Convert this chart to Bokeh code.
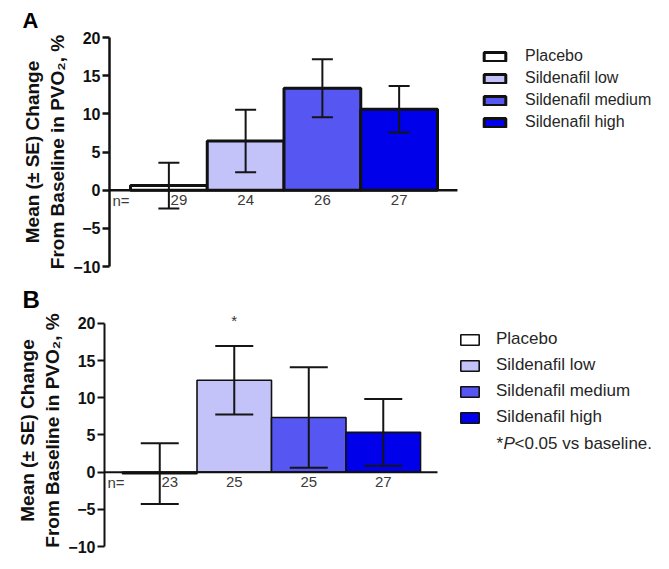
from bokeh.plotting import figure
from bokeh.models import (ColumnDataSource, Range1d, Whisker, TeeHead, Legend,
                          LegendItem, Label, FixedTicker, Title)
from bokeh.layouts import column, row
from bokeh.embed import file_html
from bokeh.resources import INLINE
from bokeh.core.properties import value

# ---------------- data ----------------
groups = ["Placebo", "Sildenafil low", "Sildenafil medium", "Sildenafil high"]
colors = ["#FFFFFF", "#C3C3FA", "#5656F2", "#0000EA"]
x_pos = [1, 2, 3, 4]
y_ticks = [-10, -5, 0, 5, 10, 15, 20]

a_mean = [0.6, 6.45, 13.35, 10.6]
a_se = [3.0, 4.1, 3.8, 3.05]
a_n = ["29", "24", "26", "27"]

b_mean = [-0.2, 12.35, 7.35, 5.35]
b_se = [4.1, 4.6, 6.75, 4.5]
b_n = ["23", "25", "25", "27"]

n_dx = [10, 0, 0, 0]
y_label = "Mean (\u00b1 SE) Change\nFrom Baseline in PVO\u2082, %"
FONT = "Liberation Sans"


def make_panel(letter, means, ses, ns, height, b_top, b_bottom, b_left,
               x_start, x_end, y_end, base_end, bar_lw, axis_lw, wl_w, cap,
               leg_loc, leg_font, gw, gh, lh, sp, lso,
               letter_off, letter_so, letter_size):
    p = figure(width=653, height=height, output_backend="svg",
               toolbar_location=None, x_axis_location=None,
               x_range=Range1d(x_start, x_end), y_range=Range1d(-10, y_end),
               min_border_top=b_top, min_border_bottom=b_bottom,
               min_border_left=b_left, min_border_right=0)
    p.grid.visible = False
    p.outline_line_color = None

    src = ColumnDataSource(dict(
        x=x_pos, top=means, color=colors, group=groups,
        upper=[m + s for m, s in zip(means, ses)],
        lower=[m - s for m, s in zip(means, ses)],
        n=ns, dx=n_dx, zero=[0] * 4))

    bars = p.vbar(x="x", top="top", bottom=0, width=1.0, source=src,
                  fill_color="color", line_color="#111111", line_width=bar_lw)

    p.segment(x0=[x_start], y0=[0], x1=[base_end], y1=[0],
              line_color="#111111", line_width=axis_lw)

    wh = Whisker(source=src, base="x", upper="upper", lower="lower",
                 line_color="#151515", line_width=wl_w, level="annotation",
                 upper_head=TeeHead(size=cap, line_width=wl_w, line_color="#151515"),
                 lower_head=TeeHead(size=cap, line_width=wl_w, line_color="#151515"))
    p.add_layout(wh)

    p.text(x="x", y="zero", text="n", source=src, x_offset="dx", y_offset=10,
           text_align="center", text_baseline="middle",
           text_font=value(FONT), text_font_size="15px", text_color="#3a3a3a")
    p.text(x=[x_start], y=[0], text=["n="], x_offset=3, y_offset=10,
           text_align="left", text_baseline="middle",
           text_font=value(FONT), text_font_size="15px", text_color="#3a3a3a")

    ax = p.yaxis[0]
    ax.ticker = FixedTicker(ticks=y_ticks)
    ax.bounds = (-10, 20)
    ax.axis_line_width = axis_lw
    ax.axis_line_color = "#111111"
    ax.major_tick_line_width = axis_lw
    ax.major_tick_line_color = "#111111"
    ax.major_tick_out = 7
    ax.major_tick_in = 0
    ax.minor_tick_out = 0
    ax.minor_tick_in = 0
    ax.major_label_standoff = 2
    ax.major_label_text_font = FONT
    ax.major_label_text_font_size = "16px"
    ax.major_label_text_font_style = "bold"
    ax.major_label_text_color = "#111111"
    ax.axis_label = y_label
    ax.axis_label_text_font = FONT
    ax.axis_label_text_font_size = "19px"
    ax.axis_label_text_font_style = "bold"
    ax.axis_label_text_color = "#111111"
    ax.axis_label_standoff = 2

    legend = Legend(items=[LegendItem(label=g, renderers=[bars], index=i)
                           for i, g in enumerate(groups)],
                    location=leg_loc, glyph_width=gw, glyph_height=gh,
                    label_height=lh, spacing=sp, label_standoff=lso,
                    padding=0, margin=0, border_line_color=None,
                    background_fill_alpha=0,
                    label_text_font=FONT, label_text_font_size=leg_font,
                    label_text_color="#262626")
    p.add_layout(legend)

    p.add_layout(Title(text=letter, align="left", offset=letter_off,
                       standoff=letter_so, text_font=FONT,
                       text_font_size=letter_size, text_font_style="bold",
                       text_color="#000000"), "above")
    return p


pA = make_panel("A", a_mean, a_se, a_n, 282, 37, 16, 109,
                0.2264, 7.314, 20, 4.76, 3, 2.5, 2, 21,
                (372, 135), "16px", 27, 11, 18, 4, 17, -87, 10, "22px")

pB = make_panel("B", b_mean, b_se, b_n, 279, 32, 15, 104,
                0.2584, 7.627, 21.2, 4.728, 1.6, 2, 2, 38,
                (354, 119), "17px", 23, 13, 20, 6, 15, -82, 3, "24px")

pB.add_layout(Label(x=2, y=20, y_offset=3, text="*", text_align="center",
                    text_baseline="middle", level="overlay",
                    text_font=FONT, text_font_size="15px", text_color="#333333"))
pB.add_layout(Label(x=392, y=103, x_units="screen", y_units="screen", text="*",
                    text_baseline="middle", text_font=FONT, text_font_size="17px",
                    text_color="#262626"))
pB.add_layout(Label(x=399, y=103, x_units="screen", y_units="screen", text="P",
                    text_baseline="middle", text_font=FONT, text_font_size="17px",
                    text_font_style="italic", text_color="#262626"))
pB.add_layout(Label(x=410, y=103, x_units="screen", y_units="screen",
                    text="<0.05 vs baseline.",
                    text_baseline="middle", text_font=FONT, text_font_size="17px",
                    text_color="#262626"))

layout = column(row(pA), row(pB))
open("out.html", "w").write(file_html(layout, INLINE))
